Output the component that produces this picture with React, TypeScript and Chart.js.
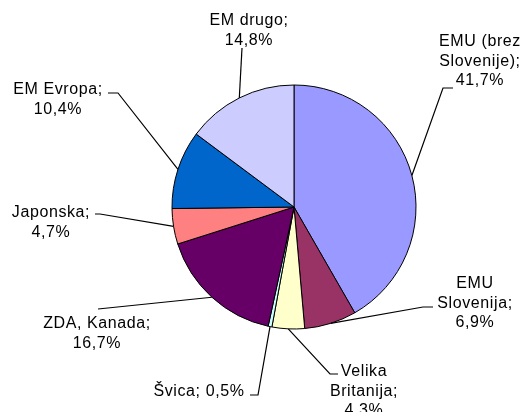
import React, { useEffect, useRef } from "react";
import { Chart, registerables } from "chart.js";

Chart.register(...registerables);

// ---- data ----
const categories = [
  "EMU (brez Slovenije)",
  "EMU Slovenija",
  "Velika Britanija",
  "Švica",
  "ZDA, Kanada",
  "Japonska",
  "EM Evropa",
  "EM drugo",
];
const shares = [41.7, 6.9, 4.3, 0.5, 16.7, 4.7, 10.4, 14.8];
const sliceColors = ["#9999FF", "#993366", "#FFFFCC", "#CCFFFF", "#660066", "#FF8080", "#0066CC", "#CCCCFF"];

// ---- label layout (positions only) ----
type LabelPos = { x: number; y: number; wrap: number; via: number[][] };
const labelLayout: LabelPos[] = [
  { x: 480, y: 46, wrap: 90, via: [[443, 88], [453, 88]] },
  { x: 475, y: 288, wrap: 90, via: [[423, 307], [433, 307]] },
  { x: 364, y: 376, wrap: 90, via: [[338, 374], [330, 374]].reverse() },
  { x: 199, y: 396, wrap: 120, via: [[258, 395], [250, 395]] },
  { x: 97, y: 328, wrap: 130, via: [[98, 309]] },
  { x: 51, y: 217, wrap: 95, via: [[100, 214], [95, 214]] },
  { x: 58, y: 94, wrap: 100, via: [[118, 93], [108, 93]] },
  { x: 249, y: 25, wrap: 90, via: [[242, 48]] },
];

const FONT = '16px "Liberation Sans", Arial, sans-serif';
const LINE_H = 19.5;

function fmt(v: number) {
  return v.toFixed(1).replace(".", ",") + "%";
}

function wrapText(ctx: CanvasRenderingContext2D, text: string, maxW: number): string[] {
  const words = text.split(" ");
  const lines: string[] = [];
  let cur = "";
  for (const w of words) {
    const test = cur ? cur + " " + w : w;
    if (cur && ctx.measureText(test).width > maxW) {
      lines.push(cur);
      cur = w;
    } else {
      cur = test;
    }
  }
  if (cur) lines.push(cur);
  return lines;
}

const leaderPlugin = {
  id: "leaderLabels",
  afterDatasetsDraw(chart: any) {
    const ctx: CanvasRenderingContext2D = chart.ctx;
    const meta = chart.getDatasetMeta(0);
    ctx.save();
    ctx.font = FONT;
    (ctx as any).letterSpacing = "0.6px";
    meta.data.forEach((arc: any, i: number) => {
      const lay = labelLayout[i];
      if (!lay) return;
      const { x, y, startAngle, endAngle, outerRadius } = arc.getProps(
        ["x", "y", "startAngle", "endAngle", "outerRadius"],
        true
      );
      const mid = (startAngle + endAngle) / 2;
      const ex = x + Math.cos(mid) * outerRadius;
      const ey = y + Math.sin(mid) * outerRadius;
      ctx.beginPath();
      ctx.strokeStyle = "#000";
      ctx.lineWidth = 1.2;
      ctx.moveTo(ex, ey);
      lay.via.forEach((p) => ctx.lineTo(p[0], p[1]));
      ctx.stroke();

      const text = `${categories[i]}; ${fmt(shares[i])}`;
      const lines = wrapText(ctx, text, lay.wrap);
      ctx.fillStyle = "#000";
      ctx.textAlign = "center";
      ctx.textBaseline = "alphabetic";
      lines.forEach((ln, k) => ctx.fillText(ln, lay.x, lay.y + k * LINE_H));
    });
    ctx.restore();
  },
};

export default function App() {
  const ref = useRef<HTMLCanvasElement | null>(null);
  useEffect(() => {
    if (!ref.current) return;
    const chart = new Chart(ref.current, {
      type: "pie",
      data: {
        labels: categories,
        datasets: [
          {
            data: shares,
            backgroundColor: sliceColors,
            borderColor: "#000",
            borderWidth: 1,
          },
        ],
      },
      options: {
        animation: false,
        responsive: false,
        radius: 122,
        layout: { padding: { left: 172, right: 109, top: 85, bottom: 83 } },
        plugins: {
          legend: { display: false },
          tooltip: { enabled: false },
        },
      } as any,
      plugins: [leaderPlugin],
    });
    return () => chart.destroy();
  }, []);
  return (
    <div style={{ position: "absolute", left: 0, top: 0, width: 525, height: 412, background: "#fff" }}>
      <canvas ref={ref} width={525} height={412} style={{ width: 525, height: 412 }} />
    </div>
  );
}
